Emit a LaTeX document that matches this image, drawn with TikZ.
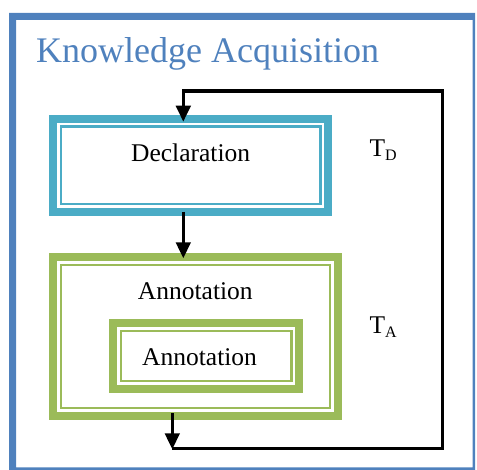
\documentclass[tikz,border=0pt]{standalone}
\usepackage{fontspec}
\setmainfont{Liberation Serif}
\usetikzlibrary{arrows.meta,calc}
\definecolor{frameblue}{HTML}{4F81BD}
\definecolor{declteal}{HTML}{4BACC6}
\definecolor{annogreen}{HTML}{9BBB59}
\tikzset{
  thickthin/.style={draw=#1, line width=8pt, inner sep=0pt, outer sep=0pt,
    font=\fontsize{25.5}{30}\selectfont},
  thinline/.style={draw=#1, line width=2.5pt},
  conn/.style={line width=3.2pt, draw=black},
  arr/.style={-{Triangle[width=14.5pt,length=16pt]}},
  plain/.style={inner sep=0pt, font=\fontsize{25.5}{30}\selectfont},
}
\begin{document}
\begin{tikzpicture}[x=1pt,y=-1pt]
\useasboundingbox (0,0) rectangle (477,470);
% outer frame
\fill[frameblue, even odd rule] (9,13) rectangle (475,474) (16,20) rectangle (472.7,467.3);
\node[inner sep=0pt, anchor=base west, text=frameblue, font=\fontsize{36}{40}\selectfont] (title) at (36,63) {Knowledge Acquisition};

% boxes
\node[thickthin=declteal, minimum width=275.3pt, minimum height=93pt,
      text height=43pt, text depth=50pt] (decl) at (190.65,165.5) {Declaration};
\draw[thinline=declteal] ([shift={(7.75pt,-7.75pt)}]decl.north west) rectangle ([shift={(-7.75pt,7.75pt)}]decl.south east);

\node[thickthin=annogreen, minimum width=284.7pt, minimum height=158.7pt,
      text height=42.7pt, text depth=116pt] (annA) at (195.35,336.65) {Annotation};
\draw[thinline=annogreen] ([shift={(7.75pt,-7.75pt)}]annA.north west) rectangle ([shift={(-7.75pt,7.75pt)}]annA.south east);

\node[thickthin=annogreen, minimum width=186.3pt, minimum height=65.4pt,
      text height=42.7pt, text depth=22.7pt] (annB) at (206.15,356) {Annotation\hspace*{13.2pt}};
\draw[thinline=annogreen] ([shift={(7.75pt,-7.75pt)}]annB.north west) rectangle ([shift={(-7.75pt,7.75pt)}]annB.south east);

% labels
\node[plain, anchor=base west] (td) at (369.3,156.7) {T\raisebox{-4pt}{\fontsize{16}{16}\selectfont D}};
\node[plain, anchor=base west] (ta) at (369.3,334) {T\raisebox{-4pt}{\fontsize{16}{16}\selectfont A}};

% connectors
\coordinate (tl) at (183.3,91);
\coordinate (tr) at (442.3,91);
\coordinate (br) at (442.3,448.3);
\coordinate (bl) at (172.3,448.3);

\draw[conn,arr] (decl.south -| tl) -- ($(annA.north -| tl)+(0pt,-1pt)$);
\draw[conn,arr] ($(annA.south -| bl)+(0pt,2.7pt)$) -- ($(bl)+(0pt,-1pt)$);
\draw[conn,arr] (bl) -- (br) -- (tr) -- (tl) -- ($(decl.north -| tl)+(0pt,-2.7pt)$);
\end{tikzpicture}
\end{document}
